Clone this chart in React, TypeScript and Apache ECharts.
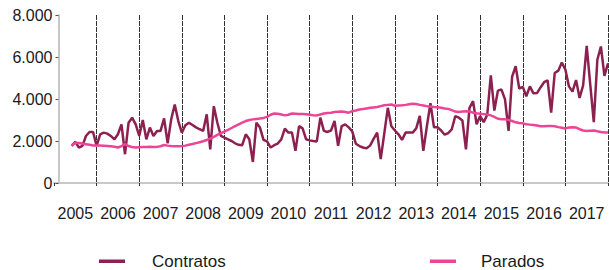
import React, { useEffect, useRef } from "react";
import * as echarts from "echarts";

const years = ["2005", "2006", "2007", "2008", "2009", "2010", "2011", "2012", "2013", "2014", "2015", "2016", "2017"];
const yTicks = [0, 2000, 4000, 6000, 8000];
const seriesNames = ["Contratos", "Parados"];
const seriesColors = ["#8c2150", "#ec4497"];
// monthly data starting June 2005 (month index 5 of 2005)
const START_YEAR = 2005;
const START_MONTH_INDEX = 5;

const contratos = [
  1770, 1960, 1690, 1770, 2240, 2430, 2430,
  1770, 2320, 2400, 2350, 2240, 2080, 2320, 2790, 1370, 2870, 3110, 2790,
  2240, 3000, 2080, 2640, 2240, 2480, 2480, 3080, 1890, 3030, 3740, 2950,
  2400, 2750, 2870, 2760, 2650, 2560, 2480, 3270, 1600, 3660, 2870, 2240,
  2160, 2080, 2000, 1890, 1820, 1800, 2320, 2080, 1000, 2870, 2640, 2050,
  1980, 1690, 1800, 1880, 2080, 2590, 2400, 2400, 1530, 2710, 2600, 2080,
  2030, 2000, 1980, 3110, 2480, 2430, 2500, 2950, 1770, 2710, 2790, 2650,
  2450, 1870, 1760, 1690, 1650, 1780, 2100, 2400, 1140, 2350, 3580, 2700,
  2500, 2320, 2050, 2400, 2400, 2400, 2600, 3200, 1530, 2700, 3800, 2650,
  2660, 2500, 2300, 2380, 2550, 3190, 3110, 2980, 1600, 3580, 3900, 2800,
  3190, 2900, 3250, 5120, 3450, 4400, 4450, 3980, 2480, 5060, 5560, 4500,
  4580, 4130, 4600, 4270, 4280, 4550, 4800, 4890, 3350, 5240, 5350, 5740,
  5400, 4600, 4350, 4900, 4050, 4650, 6530, 4700, 2900, 5870, 6500, 5100,
  5700,
];

const parados = [
  1800, 1920, 1900, 1880, 1850, 1820, 1790,
  1790, 1780, 1770, 1760, 1750, 1730, 1690, 1760, 1850, 1760, 1710, 1690,
  1700, 1710, 1720, 1730, 1720, 1720, 1750, 1810, 1780, 1760, 1750, 1750,
  1760, 1780, 1820, 1860, 1900, 1940, 1990, 2050, 2110, 2200, 2290, 2370,
  2450, 2530, 2620, 2710, 2790, 2870, 2950, 3000, 3030, 3050, 3070, 3100,
  3150, 3250, 3310, 3300, 3260, 3220, 3250, 3310, 3300, 3290, 3280, 3270,
  3250, 3230, 3220, 3260, 3310, 3330, 3350, 3380, 3390, 3400, 3380, 3350,
  3420, 3450, 3500, 3520, 3550, 3580, 3600, 3620, 3660, 3700, 3720, 3740,
  3680, 3690, 3700, 3720, 3750, 3770, 3760, 3720, 3690, 3660, 3640, 3620,
  3610, 3580, 3550, 3530, 3470, 3400, 3380, 3400, 3420, 3400, 3350, 3320,
  3300, 3280, 3260, 3220, 3150, 3060, 3040, 3030, 3000, 2950, 2890, 2860,
  2840, 2800, 2780, 2760, 2740, 2700, 2700, 2710, 2720, 2700, 2660, 2630,
  2600, 2640, 2660, 2640, 2560, 2500, 2480, 2490, 2500, 2460, 2430, 2410,
  2400,
];

const toPoints = (vals: number[]) =>
  vals.map((v, i) => [START_YEAR + (START_MONTH_INDEX + i) / 12, v]);

const fmt = (v: number) => String(v).replace(/\B(?=(\d{3})+(?!\d))/g, ".");

const FONT = "'Liberation Sans', Arial, sans-serif";

// legend placement (pixels)
const legendIconX = [99, 430];
const legendTextX = [152, 481];
const legendY = 261;

export default function App() {
  const ref = useRef<HTMLDivElement>(null);
  useEffect(() => {
    if (!ref.current) return;
    const chart = echarts.init(ref.current, undefined, { renderer: "svg" });
    const legendGraphics: any[] = [];
    seriesNames.forEach((name, i) => {
      legendGraphics.push({
        type: "rect",
        shape: { x: legendIconX[i], y: legendY - 1.5, width: 26, height: 3.5 },
        style: { fill: seriesColors[i] },
      });
      legendGraphics.push({
        type: "text",
        x: legendTextX[i],
        y: legendY,
        style: {
          text: name,
          fill: "#1a1a1a",
          font: `17px ${FONT}`,
          textVerticalAlign: "middle",
          verticalAlign: "middle",
        },
      });
    });
    chart.setOption({
      animation: false,
      backgroundColor: "#ffffff",
      grid: { left: 54, right: 1, top: 15, bottom: 87 },
      graphic: legendGraphics,
      xAxis: [
        {
          type: "category",
          data: years,
          boundaryGap: true,
          axisLine: { show: true, lineStyle: { color: "#c8c8c8", width: 2 } },
          axisTick: { show: true, interval: 0, length: 3, lineStyle: { color: "#333333" } },
          axisLabel: { interval: 0, margin: 22, fontSize: 16, color: "#1a1a1a", fontFamily: FONT },
          splitLine: {
            show: true,
            interval: 0,
            showMinLine: false,
            showMaxLine: true,
            lineStyle: { color: "#333333", width: 1, type: [5, 1] },
          },
        },
        {
          type: "value",
          min: 2005,
          max: 2018,
          show: false,
          splitLine: { show: false },
        },
      ],
      yAxis: {
        type: "value",
        min: yTicks[0],
        max: yTicks[yTicks.length - 1],
        interval: yTicks[1] - yTicks[0],
        offset: -4.5,
        axisLine: { show: true, lineStyle: { color: "#c8c8c8", width: 2 } },
        axisTick: { show: true, length: 3, lineStyle: { color: "#555555" } },
        axisLabel: {
          margin: 6,
          fontSize: 16,
          color: "#1a1a1a",
          fontFamily: FONT,
          formatter: (v: number) => fmt(v),
        },
        splitLine: { show: false },
      },
      series: [
        {
          name: seriesNames[0],
          type: "line",
          xAxisIndex: 1,
          data: toPoints(contratos),
          symbol: "none",
          color: seriesColors[0],
          lineStyle: { color: seriesColors[0], width: 2.5 },
        },
        {
          name: seriesNames[1],
          type: "line",
          xAxisIndex: 1,
          data: toPoints(parados),
          symbol: "none",
          color: seriesColors[1],
          lineStyle: { color: seriesColors[1], width: 2.5 },
        },
      ],
    });
    return () => chart.dispose();
  }, []);
  return (
    <div
      ref={ref}
      style={{ position: "fixed", left: 0, top: 0, width: 609, height: 270 }}
    />
  );
}
